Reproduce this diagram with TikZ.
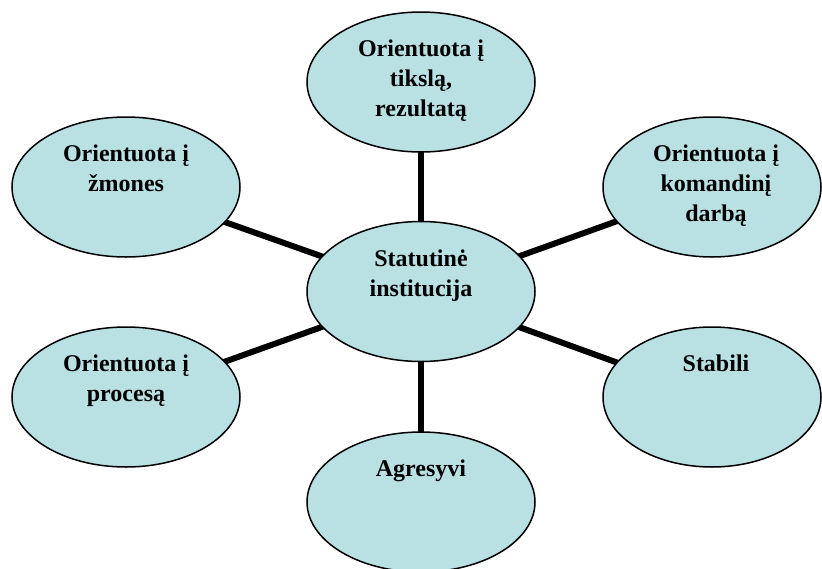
\documentclass[tikz,border=0pt]{standalone}
\usepackage{fontspec}
\setmainfont{Liberation Serif}
\usetikzlibrary{shapes.geometric,backgrounds,calc}
\definecolor{bub}{RGB}{185,224,227}
\begin{document}
\begin{tikzpicture}[x=1pt,y=-1pt,
  bubble/.style={ellipse, draw=black, line width=1.5pt, fill=bub, minimum width=228pt, minimum height=140pt, inner sep=0pt},
  rbubble/.style={bubble, minimum width=218pt},
  lbl/.style={font=\fontsize{24}{30}\selectfont\bfseries, align=center, inner sep=0pt, anchor=north},
  link/.style={line width=6pt}]
\useasboundingbox (0,0) rectangle (822,568);
\node[bubble]  (c)  at (421,291.5) {};
\node[bubble]  (t)  at (421,82) {};
\node[bubble]  (tl) at (126,187) {};
\node[rbubble] (tr) at (712,187) {};
\node[bubble]  (l)  at (126,397) {};
\node[rbubble] (r)  at (712,397) {};
\node[bubble]  (b)  at (421,502) {};
\begin{scope}[on background layer]
\draw[link] (c.center) -- (t.center);
\draw[link] (c.center) -- (tl.center);
\draw[link] (c.center) -- (tr.center);
\draw[link] (c.center) -- (l.center);
\draw[link] (c.center) -- (r.center);
\draw[link] (c.center) -- (b.center);
\end{scope}
\node[lbl] (ct)  at ($(c.north)+(0,28.5)$) {Statutinė\\institucija};
\node[lbl] (tt)  at ($(t.north)+(0,28.5)$) {Orientuota į\\tikslą,\\rezultatą};
\node[lbl] (tlt) at ($(tl.north)+(0,28.5)$) {Orientuota į\\žmones};
\node[lbl] (trt) at ($(tr.north)+(4,28.5)$) {Orientuota į\\komandinį\\darbą};
\node[lbl] (lt)  at ($(l.north)+(0,28.5)$) {Orientuota į\\procesą};
\node[lbl] (rt)  at ($(r.north)+(4,28.5)$) {Stabili};
\node[lbl] (bt)  at ($(b.north)+(0,28.5)$) {Agresyvi};
\end{tikzpicture}
\end{document}
